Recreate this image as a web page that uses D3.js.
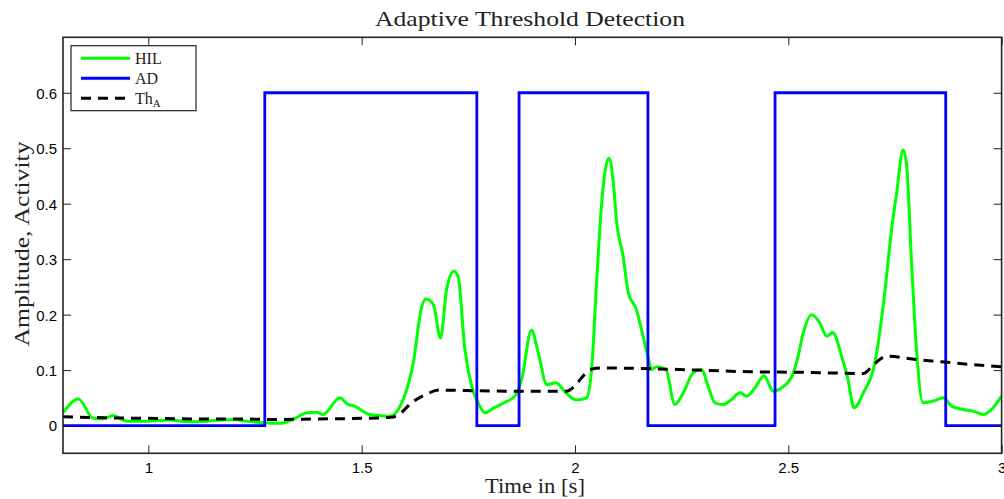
<!DOCTYPE html>
<html>
<head>
<meta charset="utf-8">
<script src="https://cdn.jsdelivr.net/npm/d3@7"></script>
<style>
  html, body { margin: 0; padding: 0; background: #fff; }
  svg { display: block; }
  .tick text { font-family: "Liberation Sans", Arial, sans-serif; font-size: 15px; fill: #000; }
  .serif { font-family: "Liberation Serif", "Times New Roman", serif; fill: #222; }
</style>
</head>
<body>
<svg id="chart" width="1004" height="499"></svg>
<script>
// Time axis (s) and HIL amplitude samples
const hilTime = [0.800, 0.836, 0.871, 0.894, 0.917, 0.950, 0.997, 1.051, 1.091, 1.137, 1.198, 1.231,
  1.269, 1.309, 1.339, 1.372, 1.395, 1.409, 1.449, 1.468, 1.480, 1.519, 1.543, 1.566, 1.594, 1.621,
  1.641, 1.651, 1.668, 1.685, 1.699, 1.716, 1.726, 1.742, 1.758, 1.773, 1.789, 1.808, 1.836, 1.859,
  1.875, 1.898, 1.914, 1.934, 1.955, 1.980, 2.004, 2.027, 2.039, 2.051, 2.062, 2.074, 2.080, 2.090,
  2.098, 2.113, 2.125, 2.144, 2.156, 2.169, 2.180, 2.191, 2.213, 2.234, 2.254, 2.277, 2.297, 2.312,
  2.328, 2.347, 2.367, 2.387, 2.402, 2.422, 2.443, 2.465, 2.488, 2.512, 2.523, 2.535, 2.555, 2.574,
  2.590, 2.604, 2.625, 2.640, 2.654, 2.676, 2.703, 2.726, 2.742, 2.754, 2.769, 2.777, 2.789, 2.800,
  2.816, 2.839, 2.863, 2.883, 2.910, 2.933, 2.958, 2.980, 3.000];
const hilValue = [0.023, 0.048, 0.013, 0.012, 0.018, 0.008, 0.008, 0.010, 0.007, 0.008, 0.011, 0.008,
  0.005, 0.004, 0.011, 0.023, 0.024, 0.020, 0.050, 0.038, 0.036, 0.020, 0.018, 0.017, 0.041, 0.113,
  0.215, 0.228, 0.218, 0.158, 0.245, 0.278, 0.269, 0.137, 0.071, 0.041, 0.023, 0.031, 0.042, 0.053,
  0.083, 0.172, 0.131, 0.074, 0.077, 0.058, 0.046, 0.050, 0.101, 0.263, 0.395, 0.473, 0.482, 0.437,
  0.365, 0.305, 0.239, 0.209, 0.173, 0.131, 0.101, 0.106, 0.101, 0.038, 0.059, 0.095, 0.101, 0.071,
  0.041, 0.038, 0.047, 0.059, 0.053, 0.068, 0.090, 0.062, 0.070, 0.095, 0.125, 0.167, 0.200, 0.185,
  0.161, 0.168, 0.125, 0.083, 0.032, 0.059, 0.113, 0.239, 0.353, 0.419, 0.497, 0.473, 0.293, 0.143,
  0.041, 0.044, 0.050, 0.035, 0.029, 0.026, 0.020, 0.032, 0.053];

// Activity detector output (held until the next switching time)
const adTime = [0.800, 1.273, 1.770, 1.869, 2.171, 2.469, 2.869, 3.000];
const adValue = [0, 0.6, 0, 0.6, 0, 0.6, 0, 0];

// Adaptive threshold Th_A
const thTime = [0.800, 0.900, 1.000, 1.100, 1.200, 1.300, 1.400, 1.500, 1.570, 1.587, 1.617, 1.656,
  1.680, 1.750, 1.850, 1.980, 2.000, 2.020, 2.040, 2.060, 2.150, 2.290, 2.410, 2.530, 2.676, 2.700,
  2.731, 2.800, 2.860, 2.930, 3.000];
const thValue = [0.016, 0.014, 0.013, 0.012, 0.012, 0.011, 0.012, 0.013, 0.015, 0.020, 0.041, 0.058,
  0.064, 0.063, 0.062, 0.062, 0.072, 0.090, 0.102, 0.104, 0.103, 0.100, 0.097, 0.096, 0.094, 0.110,
  0.125, 0.119, 0.115, 0.110, 0.106];

// Axis ticks
const xTicks = [1, 1.5, 2, 2.5, 3];
const xTickLabels = ["1", "1.5", "2", "2.5", "3"];
const yTicks = [0, 0.1, 0.2, 0.3, 0.4, 0.5, 0.6];
const yTickLabels = ["0", "0.1", "0.2", "0.3", "0.4", "0.5", "0.6"];

const legendLabels = ["HIL", "AD", "Th"];

const svg = d3.select("#chart");
const W = 1004, H = 499;
const plot = { left: 63, right: 1001.6, top: 37.3, bottom: 453.3 };

const x = d3.scaleLinear().domain([0.8, 3]).range([plot.left, plot.right]);
const y = d3.scaleLinear().domain([-0.05, 0.7]).range([plot.bottom, plot.top]);

svg.append("defs").append("clipPath").attr("id", "plotClip")
  .append("rect")
  .attr("x", plot.left).attr("y", plot.top)
  .attr("width", plot.right - plot.left).attr("height", plot.bottom - plot.top);

const lines = svg.append("g").attr("clip-path", "url(#plotClip)");

const hilData = hilTime.map((t, i) => [t, hilValue[i]]);
const adData = adTime.map((t, i) => [t, adValue[i]]);
const thData = thTime.map((t, i) => [t, thValue[i]]);

const smooth = d3.line().x(d => x(d[0])).y(d => y(d[1])).curve(d3.curveMonotoneX);
const step = d3.line().x(d => x(d[0])).y(d => y(d[1])).curve(d3.curveStepAfter);

lines.append("path").datum(hilData).attr("d", smooth)
  .attr("fill", "none").attr("stroke", "#00ff00").attr("stroke-width", 3)
  .attr("stroke-linejoin", "round");
lines.append("path").datum(adData).attr("d", step)
  .attr("fill", "none").attr("stroke", "#0000ff").attr("stroke-width", 2.8);
lines.append("path").datum(thData).attr("d", smooth)
  .attr("fill", "none").attr("stroke", "#000").attr("stroke-width", 3)
  .attr("stroke-dasharray", "10,7");

// Axes with inward ticks on all four sides
const tickLen = 8;
const fmtX = d => xTickLabels[xTicks.indexOf(d)];
const fmtY = d => yTickLabels[yTicks.indexOf(d)];

const gB = svg.append("g").attr("transform", `translate(0,${plot.bottom})`)
  .call(d3.axisBottom(x).tickValues(xTicks).tickFormat(fmtX).tickSizeInner(-tickLen).tickSizeOuter(0).tickPadding(9));
const gT = svg.append("g").attr("transform", `translate(0,${plot.top})`)
  .call(d3.axisTop(x).tickValues(xTicks).tickFormat("").tickSizeInner(-tickLen).tickSizeOuter(0));
const gL = svg.append("g").attr("transform", `translate(${plot.left},0)`)
  .call(d3.axisLeft(y).tickValues(yTicks).tickFormat(fmtY).tickSizeInner(-tickLen).tickSizeOuter(0).tickPadding(6));
const gR = svg.append("g").attr("transform", `translate(${plot.right},0)`)
  .call(d3.axisRight(y).tickValues(yTicks).tickFormat("").tickSizeInner(-tickLen).tickSizeOuter(0));

[gB, gT, gL, gR].forEach(g => {
  g.select(".domain").remove();
  g.selectAll(".tick line").attr("stroke", "#222").attr("stroke-width", 1);
});
gL.selectAll(".tick text").attr("dy", "0.36em");

svg.append("rect")
  .attr("x", plot.left).attr("y", plot.top)
  .attr("width", plot.right - plot.left).attr("height", plot.bottom - plot.top)
  .attr("fill", "none").attr("stroke", "#222").attr("stroke-width", 1.6);

// Title and axis labels
svg.append("text").attr("class", "serif")
  .attr("x", 530).attr("y", 26).attr("text-anchor", "middle")
  .attr("font-size", 21).attr("textLength", 310).attr("lengthAdjust", "spacingAndGlyphs")
  .text("Adaptive Threshold Detection");
svg.append("text").attr("class", "serif")
  .attr("x", 535).attr("y", 493).attr("text-anchor", "middle")
  .attr("font-size", 20).attr("textLength", 100).attr("lengthAdjust", "spacingAndGlyphs")
  .text("Time in [s]");
svg.append("text").attr("class", "serif")
  .attr("transform", "translate(29,244) rotate(-90)").attr("text-anchor", "middle")
  .attr("font-size", 21).attr("textLength", 205).attr("lengthAdjust", "spacingAndGlyphs")
  .text("Amplitude, Activity");

// Legend
const lg = svg.append("g");
lg.append("rect").attr("x", 71).attr("y", 45.7).attr("width", 125).attr("height", 65)
  .attr("fill", "#fff").attr("stroke", "#222").attr("stroke-width", 1.2);
const legendStyles = [
  { color: "#00ff00", dash: null },
  { color: "#0000ff", dash: null },
  { color: "#000", dash: "10,7" }
];
legendLabels.forEach((lab, i) => {
  const yy = 58.3 + i * 20;
  lg.append("line").attr("x1", 81).attr("x2", 130).attr("y1", yy).attr("y2", yy)
    .attr("stroke", legendStyles[i].color).attr("stroke-width", 3)
    .attr("stroke-dasharray", legendStyles[i].dash);
  const t = lg.append("text").attr("class", "serif").attr("x", 135).attr("y", yy + 5.5)
    .attr("font-size", 16).text(lab);
  if (lab === "Th") {
    t.append("tspan").attr("font-size", 11).attr("dy", 3).text("A");
  }
});
</script>
</body>
</html>
